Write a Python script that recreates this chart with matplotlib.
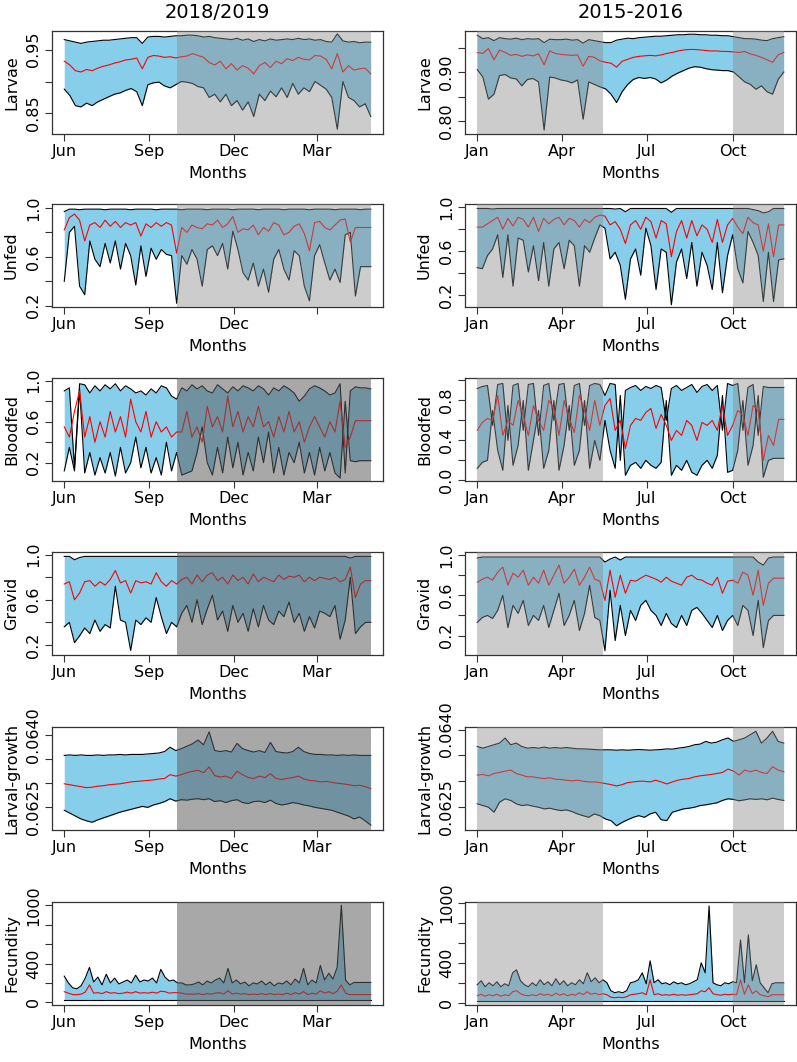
import numpy as np
import pandas as pd
import matplotlib
matplotlib.use('Agg')
import matplotlib.pyplot as plt

plt.rcParams['font.family'] = ['DejaVu Sans']

# ---------------- date ranges ----------------
left_start, left_end = pd.Timestamp('2018-06-01'), pd.Timestamp('2019-04-28')
right_start, right_end = pd.Timestamp('2015-01-01'), pd.Timestamp('2015-11-24')
left_shades = [(pd.Timestamp('2018-10-01'), pd.Timestamp('2019-04-28'))]
right_shades = [(pd.Timestamp('2015-01-01'), pd.Timestamp('2015-05-15')),
                (pd.Timestamp('2015-10-01'), pd.Timestamp('2015-11-24'))]
left_xticks = ['2018-06-01', '2018-09-01', '2018-12-01', '2019-03-01']
left_xlabels = ['Jun', 'Sep', 'Dec', 'Mar']
right_xticks = ['2015-01-01', '2015-04-01', '2015-07-01', '2015-10-01']
right_xlabels = ['Jan', 'Apr', 'Jul', 'Oct']

# ---------------- Larvae ----------------
larvae_L_hi = [0.966,0.964,0.962,0.960,0.962,0.963,0.964,0.965,0.965,0.966,
               0.967,0.968,0.969,0.969,0.960,0.970,0.971,0.971,0.970,0.971,
               0.972,0.972,0.973,0.973,0.972,0.970,0.971,0.969,0.968,0.967,
               0.966,0.968,0.965,0.967,0.963,0.966,0.964,0.967,0.965,0.966,
               0.967,0.966,0.968,0.966,0.967,0.965,0.966,0.963,0.962,0.975,
               0.964,0.962,0.963,0.961,0.962,0.962]
larvae_L_mid = [0.932,0.926,0.917,0.915,0.919,0.917,0.921,0.924,0.926,0.929,
                0.931,0.934,0.935,0.937,0.920,0.938,0.941,0.940,0.938,0.939,
                0.937,0.939,0.940,0.944,0.941,0.938,0.930,0.926,0.932,0.920,
                0.928,0.918,0.925,0.921,0.912,0.925,0.930,0.922,0.932,0.928,
                0.936,0.933,0.938,0.935,0.934,0.941,0.940,0.935,0.920,0.944,
                0.915,0.925,0.918,0.920,0.921,0.912]
larvae_L_lo = [0.888,0.878,0.862,0.860,0.866,0.862,0.868,0.872,0.876,0.880,
               0.882,0.886,0.889,0.884,0.862,0.895,0.898,0.899,0.893,0.890,
               0.895,0.900,0.899,0.897,0.892,0.890,0.875,0.880,0.868,0.880,
               0.862,0.870,0.855,0.868,0.845,0.880,0.870,0.885,0.876,0.890,
               0.875,0.897,0.880,0.890,0.884,0.900,0.894,0.888,0.875,0.825,
               0.900,0.875,0.870,0.860,0.865,0.845]
larvae_R_hi = [0.975,0.968,0.970,0.964,0.970,0.968,0.967,0.969,0.966,0.968,
               0.967,0.968,0.960,0.967,0.966,0.966,0.967,0.965,0.966,0.959,
               0.966,0.964,0.962,0.960,0.960,0.965,0.967,0.969,0.968,0.970,
               0.971,0.972,0.973,0.973,0.974,0.975,0.976,0.976,0.977,0.977,
               0.976,0.976,0.975,0.975,0.974,0.974,0.972,0.970,0.968,0.968,
               0.967,0.965,0.964,0.968,0.970,0.972]
larvae_R_mid = [0.940,0.938,0.948,0.925,0.945,0.940,0.934,0.936,0.932,0.935,
                0.933,0.937,0.915,0.943,0.938,0.936,0.935,0.934,0.935,0.912,
                0.932,0.930,0.923,0.920,0.918,0.910,0.922,0.926,0.930,0.932,
                0.933,0.934,0.933,0.935,0.938,0.940,0.943,0.945,0.946,0.946,
                0.945,0.944,0.943,0.943,0.942,0.942,0.941,0.940,0.942,0.937,
                0.934,0.930,0.925,0.920,0.935,0.940]
larvae_R_lo = [0.905,0.890,0.845,0.855,0.893,0.895,0.888,0.886,0.872,0.885,
               0.887,0.880,0.782,0.890,0.888,0.884,0.882,0.878,0.884,0.804,
               0.880,0.875,0.870,0.866,0.855,0.838,0.860,0.875,0.885,0.889,
               0.887,0.889,0.886,0.878,0.884,0.892,0.898,0.903,0.908,0.911,
               0.910,0.907,0.905,0.904,0.903,0.903,0.900,0.890,0.880,0.875,
               0.865,0.872,0.860,0.855,0.885,0.900]

# ---------------- Unfed ----------------
unfed_L_hi = [0.97] + [0.99, 0.99, 0.985, 0.99, 0.99, 0.99, 0.99, 0.985, 0.99, 0.99] * 6
unfed_L_mid = [0.82,0.92,0.95,0.90,0.73,0.86,0.88,0.84,0.90,0.85,0.89,0.84,0.88,0.86,0.88,0.77,
               0.87,0.84,0.88,0.85,0.88,0.86,0.63,0.84,0.80,0.86,0.84,0.83,0.87,0.86,0.90,0.84,
               0.87,0.93,0.80,0.83,0.82,0.86,0.78,0.84,0.81,0.88,0.86,0.78,0.80,0.85,0.87,0.79,
               0.65,0.88,0.89,0.84,0.82,0.86,0.90,0.91,0.72,0.84,0.84,0.84,0.84]
unfed_L_lo = [0.40,0.80,0.85,0.36,0.29,0.73,0.58,0.52,0.71,0.55,0.73,0.50,0.71,0.61,0.37,0.69,
              0.44,0.67,0.58,0.66,0.62,0.61,0.22,0.61,0.54,0.66,0.58,0.36,0.66,0.69,0.61,0.71,
              0.50,0.81,0.66,0.47,0.41,0.55,0.36,0.50,0.31,0.58,0.66,0.50,0.41,0.65,0.61,0.36,
              0.24,0.61,0.70,0.55,0.41,0.50,0.39,0.78,0.80,0.28,0.52,0.52,0.52]
unfed_R_hi = [0.99,0.99,0.99,0.985,0.99,0.99,0.99,0.99,0.99,0.99,0.99,0.99,0.99,0.99,0.99,0.99,
              0.99,0.99,0.99,0.99,0.99,0.99,0.99,0.99,0.99,0.99,0.99,0.985,0.99,0.96,0.99,0.99,
              0.99,0.99,0.99,0.99,0.99,0.99,0.955,0.99,0.99,0.99,0.99,0.99,0.99,0.99,0.99,0.99,
              0.99,0.99,0.99,0.99,0.99,0.99,0.98,0.97,0.95,0.96,0.99,0.99,0.99]
unfed_R_mid = [0.82,0.82,0.85,0.88,0.91,0.80,0.90,0.83,0.91,0.89,0.82,0.91,0.78,0.90,0.85,0.89,
               0.91,0.84,0.90,0.88,0.82,0.89,0.86,0.91,0.93,0.92,0.84,0.87,0.80,0.67,0.84,0.88,
               0.80,0.91,0.87,0.72,0.88,0.85,0.55,0.78,0.88,0.72,0.88,0.74,0.84,0.80,0.68,0.89,
               0.68,0.84,0.90,0.82,0.76,0.91,0.86,0.84,0.60,0.85,0.55,0.84,0.84]
unfed_R_lo = [0.45,0.44,0.56,0.62,0.75,0.36,0.75,0.28,0.72,0.70,0.41,0.65,0.33,0.68,0.28,0.62,
              0.68,0.44,0.70,0.65,0.28,0.65,0.59,0.72,0.84,0.81,0.53,0.59,0.47,0.16,0.53,0.62,
              0.38,0.81,0.65,0.25,0.62,0.59,0.11,0.50,0.62,0.35,0.68,0.28,0.59,0.47,0.25,0.68,
              0.22,0.56,0.75,0.44,0.31,0.78,0.68,0.56,0.14,0.59,0.14,0.52,0.53]

# ---------------- Bloodfed ----------------
blood_L_hi = [0.90,0.93,0.15,0.97,0.96,0.88,0.95,0.90,0.96,0.92,0.97,0.90,0.95,0.92,0.88,0.90,
              0.86,0.92,0.88,0.95,0.93,0.85,0.82,0.93,0.90,0.96,0.92,0.95,0.90,0.88,0.96,0.92,
              0.88,0.94,0.90,0.95,0.93,0.90,0.95,0.92,0.86,0.93,0.90,0.95,0.92,0.88,0.80,0.85,
              0.92,0.95,0.93,0.90,0.86,0.88,0.97,0.10,0.90,0.94,0.93,0.93,0.92]
blood_L_mid = [0.55,0.45,0.70,0.90,0.45,0.65,0.40,0.60,0.45,0.70,0.50,0.65,0.45,0.82,0.60,0.50,
               0.70,0.45,0.60,0.50,0.55,0.45,0.50,0.50,0.70,0.45,0.55,0.40,0.75,0.55,0.65,0.50,
               0.85,0.55,0.70,0.50,0.65,0.55,0.75,0.55,0.60,0.45,0.65,0.50,0.70,0.50,0.60,0.40,
               0.55,0.65,0.55,0.45,0.60,0.50,0.80,0.35,0.45,0.61,0.61,0.61,0.61]
blood_L_lo = [0.12,0.35,0.12,0.92,0.10,0.30,0.08,0.25,0.10,0.30,0.07,0.35,0.10,0.20,0.45,0.15,
              0.35,0.10,0.25,0.08,0.40,0.12,0.30,0.08,0.10,0.12,0.30,0.55,0.20,0.08,0.35,0.10,
              0.45,0.15,0.40,0.08,0.30,0.12,0.45,0.20,0.50,0.10,0.35,0.08,0.30,0.20,0.40,0.10,
              0.30,0.08,0.35,0.12,0.30,0.10,0.05,0.80,0.22,0.21,0.22,0.22,0.22]
blood_R_hi = [0.92,0.94,0.95,0.55,0.96,0.97,0.40,0.95,0.97,0.50,0.96,0.97,0.45,0.95,0.97,0.60,
              0.96,0.97,0.50,0.95,0.97,0.55,0.95,0.97,0.96,0.85,0.97,0.96,0.20,0.90,0.93,0.95,
              0.90,0.94,0.92,0.95,0.93,0.60,0.92,0.95,0.90,0.93,0.96,0.88,0.94,0.96,0.90,0.95,
              0.50,0.97,0.95,0.97,0.50,0.93,0.96,0.45,0.94,0.93,0.93,0.93,0.93]
blood_R_mid = [0.50,0.58,0.62,0.60,0.85,0.45,0.60,0.55,0.80,0.65,0.45,0.75,0.60,0.50,0.80,0.72,
               0.45,0.80,0.62,0.48,0.85,0.70,0.50,0.80,0.55,0.75,0.82,0.50,0.60,0.32,0.55,0.62,
               0.60,0.68,0.72,0.52,0.66,0.55,0.40,0.50,0.45,0.60,0.55,0.40,0.58,0.55,0.60,0.50,
               0.75,0.45,0.55,0.70,0.65,0.45,0.75,0.70,0.20,0.45,0.35,0.61,0.61]
blood_R_lo = [0.12,0.18,0.20,0.70,0.30,0.10,0.75,0.15,0.35,0.80,0.10,0.40,0.70,0.12,0.30,0.80,
              0.10,0.35,0.75,0.15,0.30,0.80,0.12,0.40,0.20,0.60,0.30,0.12,0.85,0.05,0.15,0.18,
              0.12,0.20,0.15,0.12,0.18,0.80,0.05,0.15,0.10,0.20,0.08,0.05,0.15,0.20,0.12,0.25,
              0.85,0.08,0.10,0.30,0.80,0.15,0.35,0.85,0.03,0.20,0.22,0.22,0.22]

# ---------------- Gravid ----------------
gravid_L_hi = [0.985,0.985,0.955,0.975,0.985] + [0.985] * 51 + [0.97,0.985,0.985,0.985,0.985]
gravid_L_mid = [0.74,0.76,0.60,0.66,0.76,0.77,0.72,0.76,0.73,0.78,0.86,0.75,0.77,0.66,0.77,0.75,
                0.76,0.74,0.84,0.76,0.72,0.77,0.74,0.78,0.80,0.74,0.82,0.76,0.82,0.84,0.77,0.80,
                0.74,0.82,0.77,0.80,0.74,0.83,0.76,0.80,0.78,0.76,0.82,0.78,0.81,0.80,0.82,0.76,
                0.80,0.77,0.80,0.79,0.78,0.80,0.76,0.78,0.89,0.62,0.74,0.77,0.77]
gravid_L_lo = [0.36,0.40,0.22,0.28,0.35,0.30,0.42,0.32,0.38,0.35,0.72,0.42,0.40,0.15,0.42,0.38,
               0.44,0.40,0.62,0.45,0.30,0.40,0.36,0.48,0.55,0.40,0.60,0.38,0.52,0.64,0.42,0.50,
               0.32,0.55,0.40,0.48,0.32,0.52,0.36,0.55,0.42,0.38,0.50,0.45,0.58,0.40,0.48,0.32,
               0.45,0.35,0.50,0.48,0.45,0.55,0.25,0.42,0.80,0.30,0.36,0.40,0.40]
gravid_R_hi = [0.97] + [0.98] * 24 + [0.93,0.96,0.98,0.95] + [0.98] * 26 + [0.93,0.90,0.97,0.98,0.98,0.98]
gravid_R_mid = [0.73,0.76,0.78,0.75,0.83,0.88,0.70,0.82,0.78,0.85,0.70,0.78,0.72,0.85,0.70,0.80,
                0.90,0.72,0.78,0.86,0.70,0.78,0.88,0.76,0.74,0.55,0.85,0.58,0.80,0.62,0.75,0.74,
                0.77,0.80,0.78,0.76,0.73,0.78,0.74,0.72,0.70,0.78,0.80,0.76,0.75,0.72,0.70,0.78,
                0.62,0.74,0.75,0.72,0.83,0.80,0.60,0.85,0.50,0.72,0.77,0.77,0.77]
gravid_R_lo = [0.33,0.38,0.40,0.37,0.45,0.60,0.28,0.50,0.42,0.55,0.30,0.40,0.35,0.50,0.28,0.45,
               0.62,0.30,0.40,0.55,0.25,0.42,0.70,0.38,0.35,0.05,0.65,0.15,0.50,0.20,0.45,0.35,
               0.50,0.55,0.45,0.40,0.30,0.42,0.32,0.28,0.40,0.30,0.45,0.48,0.42,0.35,0.28,0.40,
               0.25,0.35,0.40,0.30,0.50,0.45,0.20,0.55,0.08,0.35,0.40,0.40,0.40]

# ---------------- Larval-growth ----------------
growth_L_hi = [0.06358,0.06359,0.06358,0.06359,0.06358,0.06358,0.06359,0.06358,0.06359,0.06359,
               0.06360,0.06359,0.06360,0.06360,0.06360,0.06361,0.06362,0.06363,0.06366,0.06375,
               0.06368,0.06372,0.06377,0.06382,0.06390,0.06380,0.06407,0.06368,0.06366,0.06368,
               0.06365,0.06383,0.06372,0.06368,0.06365,0.06368,0.06364,0.06385,0.06366,0.06364,
               0.06363,0.06366,0.06375,0.06366,0.06362,0.06360,0.06360,0.06359,0.06359,0.06358,
               0.06359,0.06358,0.06359,0.06358,0.06358,0.06358]
growth_L_mid = [0.06299,0.06297,0.06295,0.06293,0.06291,0.06292,0.06294,0.06295,0.06297,0.06298,
                0.06299,0.06301,0.06303,0.06304,0.06305,0.06306,0.06307,0.06309,0.06310,0.06318,
                0.06315,0.06318,0.06322,0.06325,0.06327,0.06322,0.06334,0.06316,0.06313,0.06315,
                0.06310,0.06325,0.06318,0.06312,0.06310,0.06315,0.06312,0.06320,0.06310,0.06308,
                0.06310,0.06312,0.06315,0.06309,0.06306,0.06305,0.06303,0.06304,0.06302,0.06300,
                0.06299,0.06297,0.06295,0.06296,0.06293,0.06289]
growth_L_lo = [0.06244,0.06238,0.06232,0.06226,0.06222,0.06219,0.06224,0.06228,0.06232,0.06236,
               0.06240,0.06243,0.06246,0.06249,0.06252,0.06250,0.06255,0.06258,0.06262,0.06268,
               0.06263,0.06266,0.06265,0.06267,0.06268,0.06266,0.06268,0.06262,0.06264,0.06260,
               0.06264,0.06266,0.06260,0.06258,0.06262,0.06263,0.06260,0.06265,0.06258,0.06255,
               0.06257,0.06260,0.06258,0.06255,0.06253,0.06250,0.06248,0.06246,0.06244,0.06240,
               0.06236,0.06232,0.06226,0.06230,0.06222,0.06213]
growth_R_hi = [0.063674,0.063641,0.063674,0.063707,0.063739,0.063837,0.063707,0.063739,0.063674,0.063641,
               0.063654,0.063641,0.063661,0.063641,0.063654,0.063641,0.063654,0.063641,0.063628,0.063628,
               0.063622,0.063615,0.063609,0.063609,0.063609,0.063602,0.063609,0.063602,0.063609,0.063615,
               0.063609,0.063602,0.063609,0.063615,0.063628,0.063622,0.063641,0.063654,0.063674,0.063707,
               0.063720,0.063772,0.063739,0.063759,0.063804,0.063837,0.063772,0.063804,0.063837,0.063902,
               0.063967,0.063739,0.063837,0.063967,0.063772,0.063739]
growth_R_mid = [0.063120,0.063133,0.063107,0.063152,0.063172,0.063198,0.063218,0.063152,0.063120,0.063087,
                0.063087,0.063068,0.063055,0.063068,0.063042,0.063035,0.063022,0.063009,0.063022,0.063002,
                0.062989,0.062989,0.062976,0.062957,0.062937,0.062911,0.062937,0.062976,0.062989,0.063002,
                0.063002,0.062989,0.063022,0.062989,0.062950,0.062989,0.063022,0.063042,0.063055,0.063087,
                0.063107,0.063120,0.063133,0.063152,0.063172,0.063237,0.063198,0.063120,0.063218,0.063185,
                0.063218,0.063172,0.063152,0.063283,0.063218,0.063185]
growth_R_lo = [0.062566,0.062533,0.062500,0.062403,0.062598,0.062663,0.062631,0.062566,0.062533,0.062546,
               0.062520,0.062500,0.062468,0.062481,0.062455,0.062435,0.062448,0.062416,0.062370,0.062337,
               0.062305,0.062370,0.062337,0.062272,0.062240,0.062142,0.062207,0.062259,0.062305,0.062337,
               0.062305,0.062370,0.062403,0.062259,0.062240,0.062403,0.062435,0.062468,0.062481,0.062500,
               0.062533,0.062546,0.062566,0.062585,0.062631,0.062663,0.062650,0.062624,0.062644,0.062663,
               0.062650,0.062663,0.062644,0.062676,0.062650,0.062631]

# ---------------- Fecundity ----------------
fec_L_hi = [270,200,150,140,170,250,360,210,260,180,290,200,250,190,210,230,
            200,280,210,230,220,250,200,340,260,220,230,200,200,180,180,
            190,210,180,220,200,230,250,200,350,200,230,190,210,170,200,
            190,220,180,210,170,200,190,220,180,240,200,350,180,230,200,
            380,230,300,240,360,1000,230,180,205,205,205,205,205]
fec_L_mid = [110,95,80,80,85,105,180,95,100,90,110,95,100,90,95,105,
             95,110,95,100,95,105,95,115,110,95,100,100,95,85,85,
             85,90,80,90,85,95,100,85,120,85,95,85,90,80,85,
             80,90,80,90,80,85,80,95,80,100,85,110,80,95,85,
             120,95,110,90,115,180,95,80,80,80,80,80,80]
fec_L_lo = [25] * 74
fec_R_hi = [180,220,160,200,170,210,160,190,170,300,330,220,180,160,200,170,
            230,180,210,170,240,180,220,170,200,180,230,190,300,210,250,200,
            230,200,120,100,110,100,120,200,210,230,300,190,420,200,230,190,
            200,180,210,190,200,180,190,210,230,400,300,970,200,180,170,
            200,190,210,200,630,200,680,220,380,200,150,100,190,200,200,200]
fec_R_mid = [70,85,65,80,70,85,65,80,70,110,120,90,75,70,80,70,
             90,75,85,70,95,75,90,70,85,75,100,80,110,85,95,80,
             90,80,55,50,55,50,60,80,85,90,100,80,230,80,90,75,
             80,75,85,75,80,75,80,85,90,120,110,150,90,80,75,
             85,80,85,80,230,85,180,90,120,80,70,60,80,80,80,80]
fec_R_lo = [15] * 79

# ---------------- panel definitions ----------------
rows = [
    ('Larvae', (larvae_L_lo, larvae_L_mid, larvae_L_hi), (larvae_R_lo, larvae_R_mid, larvae_R_hi),
     (0.8174, 0.9795), [0.85, 0.90, 0.95], ['0.85', '', '0.95'],
     (0.774, 0.9836), [0.80, 0.85, 0.90, 0.95], ['0.80', '', '0.90', ''], 'light'),
    ('Unfed', (unfed_L_lo, unfed_L_mid, unfed_L_hi), (unfed_R_lo, unfed_R_mid, unfed_R_hi),
     (0.19, 1.032), [0.2, 0.4, 0.6, 0.8, 1.0], ['0.2', '', '0.6', '', '1.0'],
     (0.09, 1.031), [0.2, 0.4, 0.6, 0.8, 1.0], ['0.2', '', '0.6', '', '1.0'], 'light'),
    ('Bloodfed', (blood_L_lo, blood_L_mid, blood_L_hi), (blood_R_lo, blood_R_mid, blood_R_hi),
     (0.022, 1.026), [0.2, 0.4, 0.6, 0.8, 1.0], ['0.2', '', '0.6', '', '1.0'],
     (-0.007, 1.025), [0.0, 0.2, 0.4, 0.6, 0.8, 1.0], ['0.0', '', '0.4', '', '0.8', ''], 'dark'),
    ('Gravid', (gravid_L_lo, gravid_L_mid, gravid_L_hi), (gravid_R_lo, gravid_R_mid, gravid_R_hi),
     (0.11, 1.024), [0.2, 0.4, 0.6, 0.8, 1.0], ['0.2', '', '0.6', '', '1.0'],
     (0.007, 1.03), [0.2, 0.4, 0.6, 0.8, 1.0], ['0.2', '', '0.6', '', '1.0'], 'dark'),
    ('Larval-growth', (growth_L_lo, growth_L_mid, growth_L_hi), (growth_R_lo, growth_R_mid, growth_R_hi),
     (0.06203, 0.06417), [0.0625, 0.0630, 0.0635, 0.0640], ['0.0625', '', '', '0.0640'],
     (0.06206, 0.06405), [0.0625, 0.0630, 0.0635, 0.0640], ['0.0625', '', '', '0.0640'], 'dark'),
    ('Fecundity', (fec_L_lo, fec_L_mid, fec_L_hi), (fec_R_lo, fec_R_mid, fec_R_hi),
     (-27, 1033), [0, 200, 400, 600, 800, 1000], ['0', '', '400', '', '', '1000'],
     (-23, 1010), [0, 200, 400, 600, 800, 1000], ['0', '', '400', '', '', '1000'], 'dark'),
]

W, H = 797, 1062
fig = plt.figure(figsize=(W / 100, H / 100), dpi=100)

SKY = '#87CEEB'
SHADE = {'light': ((0.54, 0.54, 0.54), 0.435), 'dark': ((0.36, 0.36, 0.36), 0.53)}
FS = 11.5


def draw(ax, start, end, series, ylim, yticks, ylabels, xticks, xlabels, shades, shade, ylabel):
    lo, mid, hi = series
    x = pd.date_range(start, end, periods=len(lo))
    xm = pd.date_range(start, end, periods=len(mid))
    ax.fill_between(x, lo, hi, color=SKY, lw=0, zorder=1)
    ax.plot(x, hi, color='black', lw=0.8, zorder=2)
    ax.plot(x, lo, color='black', lw=0.8, zorder=2)
    ax.plot(xm, mid, color='red', lw=0.8, zorder=3)
    col, a = SHADE[shade]
    for s, e in shades:
        ax.axvspan(s, e, color=col, alpha=a, lw=0, zorder=4)
    span = end - start
    ax.set_xlim(start - span * 0.04, end + span * 0.04)
    ax.set_ylim(*ylim)
    ax.set_yticks(yticks)
    ax.set_yticklabels(ylabels, rotation=90, va='center', fontsize=FS)
    ax.set_xticks([pd.Timestamp(t) for t in xticks])
    ax.set_xticklabels(xlabels, fontsize=FS)
    ax.tick_params(direction='out', length=5, width=0.8, color='#333333', pad=2)
    ax.tick_params(axis='y', pad=3)
    for sp in ax.spines.values():
        sp.set_color('#333333')
        sp.set_linewidth(0.9)
    ax.set_xlabel('Months', fontsize=FS, labelpad=5)
    ax.set_ylabel(ylabel, fontsize=FS, labelpad=5)


tops = [31, 204, 378, 552, 727, 902]
box_h = 103
for r, (name, sl, sr, ylL, ytL, ylbL, ylR, ytR, ylbR, shade) in enumerate(rows):
    bottom = 1 - (tops[r] + box_h) / H
    axL = fig.add_axes([52 / W, bottom, 331 / W, box_h / H])
    axR = fig.add_axes([465 / W, bottom, 331 / W, box_h / H])
    lxl = list(left_xlabels)
    if name == 'Unfed':
        lxl[3] = ''
    draw(axL, left_start, left_end, sl, ylL, ytL, ylbL, left_xticks, lxl, left_shades, shade, name)
    draw(axR, right_start, right_end, sr, ylR, ytR, ylbR, right_xticks, right_xlabels, right_shades, 'light', name)

fig.text(217 / W, 1 - 12 / H, '2018/2019', ha='center', va='center', fontsize=14)
fig.text(631 / W, 1 - 12 / H, '2015-2016', ha='center', va='center', fontsize=14)

fig.savefig('out.png', dpi=100)
